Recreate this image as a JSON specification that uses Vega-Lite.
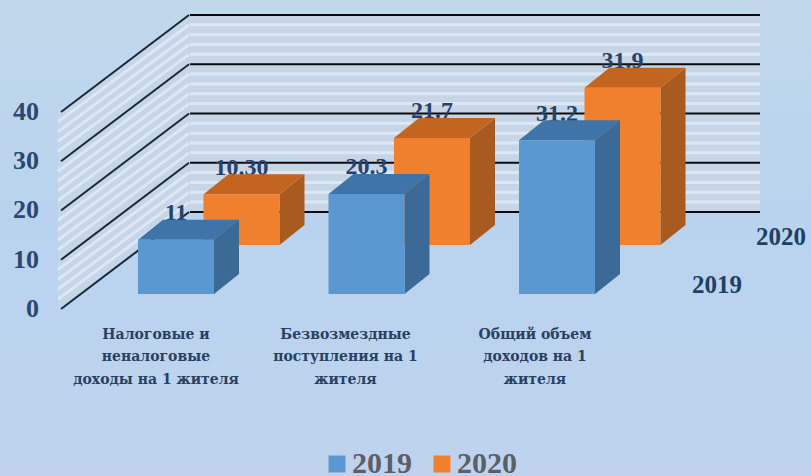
{"$schema":"https://vega.github.io/schema/vega-lite/v6.json","width":811,"height":476,"padding":0,"autosize":{"type":"fit","contains":"padding"},"background":"#bcd5ee","view":{"stroke":null,"fill":{"gradient":"linear","x1":0,"y1":0,"x2":0,"y2":1,"stops":[{"offset":0,"color":"#c2d8ea"},{"offset":0.45,"color":"#b9d3ee"},{"offset":1,"color":"#bfd3ee"}]}},"datasets":{"bars":[{"category":"Налоговые и\nненалоговые\nдоходы на 1 жителя","series":"2019","value":11,"label":"11"},{"category":"Безвозмездные\nпоступления на 1\nжителя","series":"2019","value":20.3,"label":"20.3"},{"category":"Общий объем\nдоходов на 1\nжителя","series":"2019","value":31.2,"label":"31.2"},{"category":"Налоговые и\nненалоговые\nдоходы на 1 жителя","series":"2020","value":10.3,"label":"10.30"},{"category":"Безвозмездные\nпоступления на 1\nжителя","series":"2020","value":21.7,"label":"21.7"},{"category":"Общий объем\nдоходов на 1\nжителя","series":"2020","value":31.9,"label":"31.9"}],"major":[{"v":0},{"v":10},{"v":20},{"v":30},{"v":40}],"minor":[{"v":2},{"v":4},{"v":6},{"v":8},{"v":12},{"v":14},{"v":16},{"v":18},{"v":22},{"v":24},{"v":26},{"v":28},{"v":32},{"v":34},{"v":36},{"v":38}],"series":[{"series":"2019"},{"series":"2020"}]},"data":{"name":"bars"},"transform":[{"calculate":"indexof(['Нал','Без','Общ'],slice(datum.category,0,3))","as":"ci"},{"calculate":"datum.series=='2020'?1:0","as":"si"},{"calculate":"138+190.5*datum.ci+65.5*datum.si","as":"x0"},{"calculate":"datum.x0+76","as":"x1"},{"calculate":"datum.si?13:3.05","as":"base"},{"calculate":"datum.base+datum.value","as":"top"},{"calculate":"(datum.x0+datum.x1)/2","as":"xc"},{"calculate":"datum.top+4","as":"ylab"},{"calculate":"[datum.x1,datum.x1+25]","as":"sx"},{"calculate":"[datum.base,datum.base+4.06]","as":"sb"},{"calculate":"[datum.top,datum.top+4.06]","as":"st"},{"calculate":"[datum.x0,datum.x0+25,datum.x1,datum.x1+25]","as":"tx"},{"calculate":"[datum.top,datum.top,datum.top,datum.top+4.06]","as":"tb"},{"calculate":"[datum.top,datum.top+4.06,datum.top+4.06,datum.top+4.06]","as":"tt"}],"layer":[{"data":{"name":"major"},"transform":[{"filter":"datum.v==0"},{"calculate":"[58,189]","as":"ax"},{"calculate":"[0,19.7]","as":"ab"},{"calculate":"[40,59.7]","as":"at"},{"flatten":["ax","ab","at"]}],"mark":{"type":"area","color":"#c6d6e6","interpolate":"linear"},"encoding":{"x":{"field":"ax","type":"quantitative","scale":{"domain":[0,811]},"axis":null},"y":{"field":"ab","type":"quantitative","scale":{"domain":[-33.91,62.74]},"axis":null},"y2":{"field":"at"}}},{"data":{"name":"major"},"transform":[{"filter":"datum.v==0"},{"calculate":"190","as":"wx"},{"calculate":"760","as":"wx2"},{"calculate":"19.7","as":"wb"},{"calculate":"59.7","as":"wt"}],"mark":{"type":"rect","color":"#c6d6e6"},"encoding":{"x":{"field":"wx","type":"quantitative","scale":{"domain":[0,811]},"axis":null},"x2":{"field":"wx2"},"y":{"field":"wb","type":"quantitative","scale":{"domain":[-33.91,62.74]},"axis":null},"y2":{"field":"wt"}}},{"data":{"name":"minor"},"transform":[{"calculate":"58","as":"a"},{"calculate":"189","as":"b"},{"calculate":"datum.v+19.7","as":"w"}],"mark":{"type":"rule","color":"#dce8f6","strokeWidth":3},"encoding":{"x":{"field":"a","type":"quantitative","scale":{"domain":[0,811]},"axis":null},"x2":{"field":"b"},"y":{"field":"v","type":"quantitative","scale":{"domain":[-33.91,62.74]},"axis":null},"y2":{"field":"w"}}},{"data":{"name":"minor"},"transform":[{"calculate":"190","as":"a"},{"calculate":"760","as":"b"},{"calculate":"datum.v+19.7","as":"w"}],"mark":{"type":"rule","color":"#dce8f6","strokeWidth":3},"encoding":{"x":{"field":"a","type":"quantitative","scale":{"domain":[0,811]},"axis":null},"x2":{"field":"b"},"y":{"field":"w","type":"quantitative","scale":{"domain":[-33.91,62.74]},"axis":null}}},{"data":{"name":"major"},"transform":[{"calculate":"61","as":"a"},{"calculate":"189","as":"b"},{"calculate":"datum.v+19.7","as":"w"}],"mark":{"type":"rule","color":"#16283c","strokeWidth":2},"encoding":{"x":{"field":"a","type":"quantitative","scale":{"domain":[0,811]},"axis":null},"x2":{"field":"b"},"y":{"field":"v","type":"quantitative","scale":{"domain":[-33.91,62.74]},"axis":null},"y2":{"field":"w"}}},{"data":{"name":"major"},"transform":[{"calculate":"39","as":"a"}],"mark":{"type":"text","font":"Liberation Serif","fontWeight":"bold","fontSize":26,"color":"#2c4770","align":"right","baseline":"middle"},"encoding":{"x":{"field":"a","type":"quantitative","scale":{"domain":[0,811]},"axis":null},"y":{"field":"v","type":"quantitative","scale":{"domain":[-33.91,62.74]},"axis":null},"text":{"field":"v","type":"quantitative"}}},{"data":{"name":"major"},"transform":[{"calculate":"190","as":"a"},{"calculate":"760","as":"b"},{"calculate":"datum.v+19.7","as":"w"}],"mark":{"type":"rule","color":"#0c0c10","strokeWidth":2},"encoding":{"x":{"field":"a","type":"quantitative","scale":{"domain":[0,811]},"axis":null},"x2":{"field":"b"},"y":{"field":"w","type":"quantitative","scale":{"domain":[-33.91,62.74]},"axis":null}}},{"transform":[{"filter":"datum.si==1"}],"mark":{"type":"text","font":"Liberation Serif","fontWeight":"bold","fontSize":24,"color":"#27426a","baseline":"alphabetic","align":"center"},"encoding":{"x":{"field":"xc","type":"quantitative","scale":{"domain":[0,811]},"axis":null},"y":{"field":"ylab","type":"quantitative","scale":{"domain":[-33.91,62.74]},"axis":null},"text":{"field":"label"}}},{"transform":[{"filter":"datum.si==1"},{"flatten":["sx","sb","st"]}],"mark":{"type":"area","color":"#a95a1f","interpolate":"linear"},"encoding":{"x":{"field":"sx","type":"quantitative","scale":{"domain":[0,811]},"axis":null},"y":{"field":"sb","type":"quantitative","scale":{"domain":[-33.91,62.74]},"axis":null},"y2":{"field":"st"},"detail":{"field":"category"}}},{"transform":[{"filter":"datum.si==1"},{"flatten":["tx","tb","tt"]}],"mark":{"type":"area","color":"#c4651f","interpolate":"linear"},"encoding":{"x":{"field":"tx","type":"quantitative","scale":{"domain":[0,811]},"axis":null},"y":{"field":"tb","type":"quantitative","scale":{"domain":[-33.91,62.74]},"axis":null},"y2":{"field":"tt"},"detail":{"field":"category"}}},{"transform":[{"filter":"datum.si==1"}],"mark":{"type":"rect"},"encoding":{"x":{"field":"x0","type":"quantitative","scale":{"domain":[0,811]},"axis":null},"x2":{"field":"x1"},"y":{"field":"base","type":"quantitative","scale":{"domain":[-33.91,62.74]},"axis":null},"y2":{"field":"top"},"color":{"field":"series","type":"nominal","scale":{"domain":["2019","2020"],"range":["#5b97d1","#f07f2e"]},"legend":{"orient":"none","legendX":322,"legendY":449,"direction":"horizontal","title":null,"symbolType":"square","symbolSize":289,"symbolStrokeWidth":0,"columnPadding":15,"labelFont":"Liberation Serif","labelFontWeight":"bold","labelFontSize":30,"labelColor":"#5a6066","labelOffset":0,"padding":0}}}},{"transform":[{"filter":"datum.si==0"}],"mark":{"type":"text","font":"Liberation Serif","fontWeight":"bold","fontSize":24,"color":"#27426a","baseline":"alphabetic","align":"center"},"encoding":{"x":{"field":"xc","type":"quantitative","scale":{"domain":[0,811]},"axis":null},"y":{"field":"ylab","type":"quantitative","scale":{"domain":[-33.91,62.74]},"axis":null},"text":{"field":"label"}}},{"transform":[{"filter":"datum.si==0"},{"flatten":["sx","sb","st"]}],"mark":{"type":"area","color":"#3b6a96","interpolate":"linear"},"encoding":{"x":{"field":"sx","type":"quantitative","scale":{"domain":[0,811]},"axis":null},"y":{"field":"sb","type":"quantitative","scale":{"domain":[-33.91,62.74]},"axis":null},"y2":{"field":"st"},"detail":{"field":"category"}}},{"transform":[{"filter":"datum.si==0"},{"flatten":["tx","tb","tt"]}],"mark":{"type":"area","color":"#3f74a8","interpolate":"linear"},"encoding":{"x":{"field":"tx","type":"quantitative","scale":{"domain":[0,811]},"axis":null},"y":{"field":"tb","type":"quantitative","scale":{"domain":[-33.91,62.74]},"axis":null},"y2":{"field":"tt"},"detail":{"field":"category"}}},{"transform":[{"filter":"datum.si==0"}],"mark":{"type":"rect"},"encoding":{"x":{"field":"x0","type":"quantitative","scale":{"domain":[0,811]},"axis":null},"x2":{"field":"x1"},"y":{"field":"base","type":"quantitative","scale":{"domain":[-33.91,62.74]},"axis":null},"y2":{"field":"top"},"color":{"field":"series","type":"nominal","scale":{"domain":["2019","2020"],"range":["#5b97d1","#f07f2e"]}}}},{"transform":[{"filter":"datum.si==0"},{"calculate":"156+189.5*datum.ci","as":"cx"},{"calculate":"-3.8","as":"cy"}],"mark":{"type":"text","font":"DejaVu Serif","fontWeight":"bold","fontSize":14,"color":"#2a4060","baseline":"top","align":"center","lineBreak":"\n","lineHeight":22.5},"encoding":{"x":{"field":"cx","type":"quantitative","scale":{"domain":[0,811]},"axis":null},"y":{"field":"cy","type":"quantitative","scale":{"domain":[-33.91,62.74]},"axis":null},"text":{"field":"category"}}},{"data":{"name":"series"},"transform":[{"calculate":"datum.series=='2020'?781:717","as":"dx"},{"calculate":"datum.series=='2020'?14.6:4.87","as":"dy"}],"mark":{"type":"text","font":"Liberation Serif","fontWeight":"bold","fontSize":25,"color":"#1f3f66","baseline":"middle","align":"center"},"encoding":{"x":{"field":"dx","type":"quantitative","scale":{"domain":[0,811]},"axis":null},"y":{"field":"dy","type":"quantitative","scale":{"domain":[-33.91,62.74]},"axis":null},"text":{"field":"series"}}}]}
